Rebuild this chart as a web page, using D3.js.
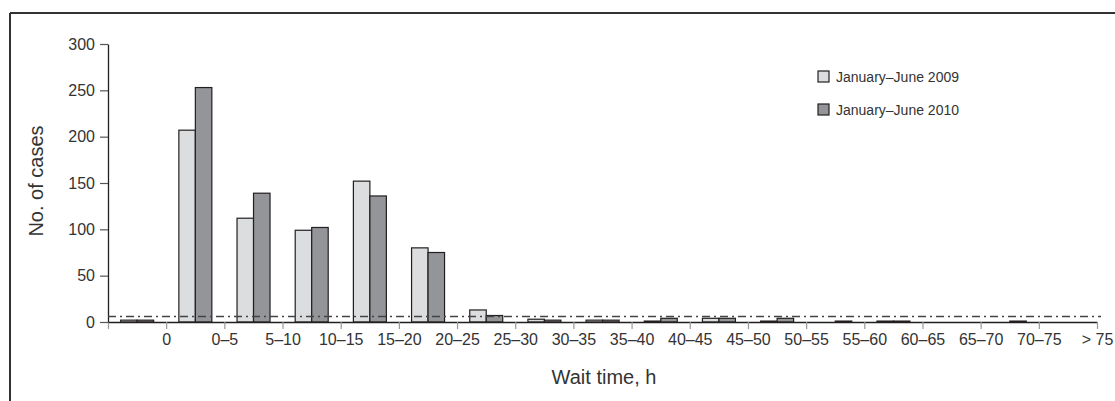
<!DOCTYPE html>
<html>
<head>
<meta charset="utf-8">
<script src="https://cdn.jsdelivr.net/npm/d3@7"></script>
<style>
	body { margin: 0; background: #fff; }
	text { font-family: "Liberation Sans", Arial, sans-serif; fill: #333; }
</style>
</head>
<body>
<script>
"use strict";
const categories = ["0", "0–5", "5–10", "10–15", "15–20", "20–25", "25–30", "30–35", "35–40", "40–45", "45–50", "50–55", "55–60", "60–65", "65–70", "70–75", "> 75"];
const cases2009 = [2, 207, 112, 99, 152, 80, 13, 3, 2, 1, 4, 1, 0, 1, 0, 0, 0];
const cases2010 = [2, 253, 139, 102, 136, 75, 7, 2, 2, 4, 4, 4, 1, 1, 0, 1, 0];
const seriesNames = ["January–June 2009", "January–June 2010"];
const yTicks = [0, 50, 100, 150, 200, 250, 300];
const refValue = 6;

function app() {
	const w = 1115;
	const h = 401;
	const left = 108, right = 1097, top = 44, bottom = 322;
	const colors = ["#dcdddf", "#939598"];

	const svg = d3.select("body").append("svg").attr("width", w).attr("height", h);

	// frame
	svg.append("line").attr("x1", 10).attr("x2", w).attr("y1", 13).attr("y2", 13).attr("stroke", "#333").attr("stroke-width", 2);
	svg.append("line").attr("x1", 10).attr("x2", 10).attr("y1", 13).attr("y2", h).attr("stroke", "#333").attr("stroke-width", 2);

	const xScale = d3.scaleBand().domain(categories).range([left, right]).padding(0);
	const inner = d3.scaleBand().domain(seriesNames).range([xScale.bandwidth() * 0.218, xScale.bandwidth() * 0.785]).padding(0);
	const yScale = d3.scaleLinear().domain([0, 300]).range([bottom, top]);

	const rows = [];
	categories.forEach((c, i) => {
		rows.push({ cat: c, s: seriesNames[0], v: cases2009[i], color: colors[0] });
		rows.push({ cat: c, s: seriesNames[1], v: cases2010[i], color: colors[1] });
	});

	svg.selectAll("rect.bar").data(rows.filter(d => d.v > 0)).enter().append("rect")
		.attr("class", "bar")
		.attr("x", d => xScale(d.cat) + inner(d.s))
		.attr("y", d => yScale(d.v))
		.attr("width", inner.bandwidth())
		.attr("height", d => yScale(0) - yScale(d.v))
		.attr("fill", d => d.color)
		.attr("stroke", "#231f20")
		.attr("stroke-width", 1.2);

	// x axis: labels sit at the right edge of each band
	const tickPos = d3.scaleLinear().domain([0, categories.length]).range([left, right]);
	const xAxis = d3.axisBottom(tickPos).tickValues(d3.range(0, categories.length + 1))
		.tickFormat(i => i === 0 ? "" : categories[i - 1]).tickSize(7).tickSizeOuter(0).tickPadding(5);
	const gx = svg.append("g").attr("transform", "translate(0," + bottom + ")").call(xAxis);
	gx.select(".domain").attr("stroke", "#231f20").attr("stroke-width", 1.3);
	gx.selectAll(".tick line").attr("stroke", "#999").attr("stroke-width", 1.2);
	gx.selectAll("text").style("font-size", "16px").attr("fill", "#333");

	const yAxis = d3.axisLeft(yScale).tickValues(yTicks).tickSize(8).tickSizeOuter(0).tickPadding(5);
	const gy = svg.append("g").attr("transform", "translate(" + left + ",0)").call(yAxis);
	gy.select(".domain").attr("stroke", "#231f20").attr("stroke-width", 1.3);
	gy.selectAll(".tick line").attr("stroke", "#555").attr("stroke-width", 1.2);
	gy.selectAll("text").style("font-size", "16px").attr("fill", "#333");

	// reference line
	svg.append("line").attr("x1", left).attr("x2", 1101)
		.attr("y1", yScale(refValue)).attr("y2", yScale(refValue))
		.attr("stroke", "#444").attr("stroke-width", 1.5).attr("stroke-dasharray", "8,4,2,4");

	// titles
	svg.append("text").attr("transform", "translate(43,181) rotate(-90)").attr("text-anchor", "middle")
		.style("font-size", "20px").text("No. of cases");
	svg.append("text").attr("x", 604).attr("y", 384).attr("text-anchor", "middle")
		.style("font-size", "20px").text("Wait time, h");

	// legend
	const lg = svg.append("g").selectAll("g").data(seriesNames).enter().append("g")
		.attr("transform", (d, i) => "translate(818," + (71 + i * 33) + ")");
	lg.append("rect").attr("width", 11).attr("height", 11).attr("fill", (d, i) => colors[i])
		.attr("stroke", "#231f20").attr("stroke-width", 1.2);
	lg.append("text").attr("x", 18).attr("y", 11).style("font-size", "14px").text(d => d);
}

app();
</script>
</body>
</html>
